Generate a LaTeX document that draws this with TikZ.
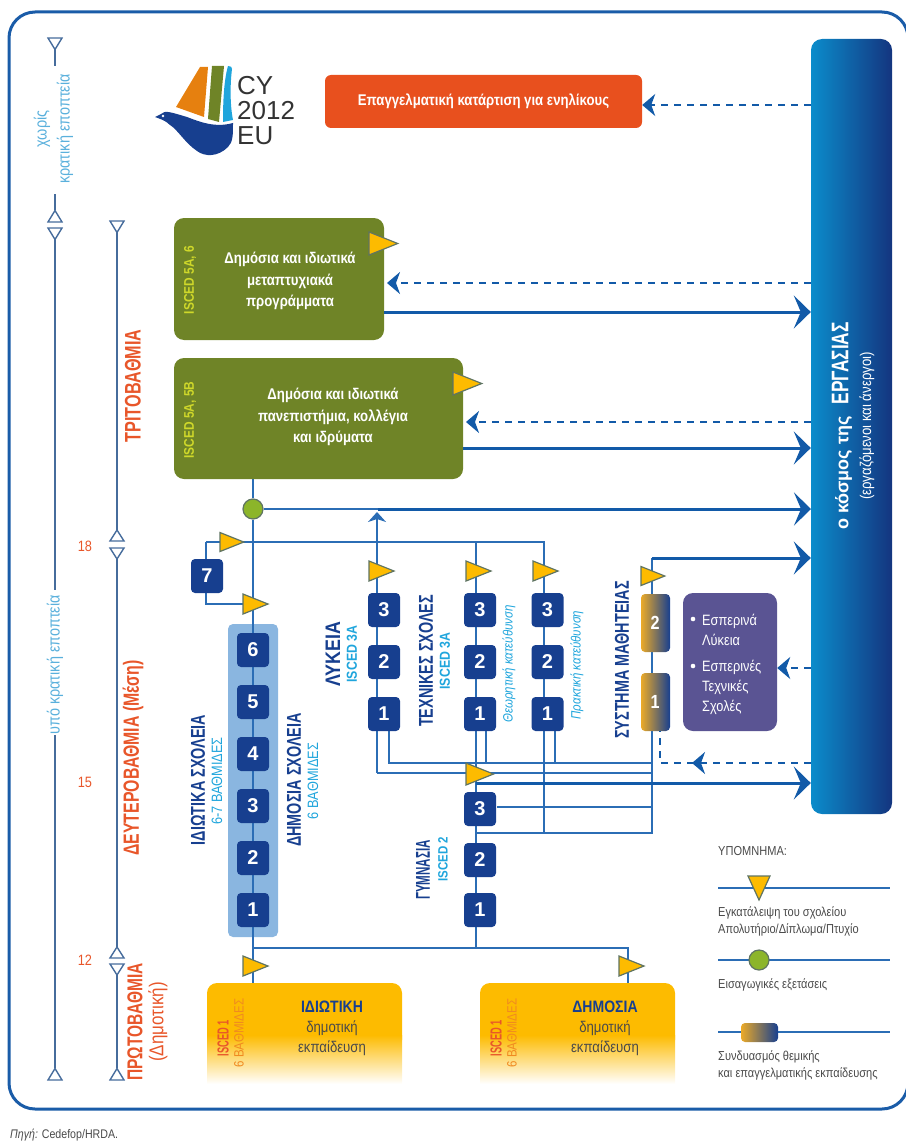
\documentclass[tikz,border=0pt]{standalone}
\usepackage{fontspec}
\setmainfont{Liberation Sans}
\newfontfamily\condA[FakeStretch=0.85]{Liberation Sans}
\newfontfamily\condB[FakeStretch=0.72]{Liberation Sans}
\newfontfamily\condC[FakeStretch=0.58]{Liberation Sans}
\usetikzlibrary{arrows.meta,backgrounds,calc}
\definecolor{lnblue}{HTML}{2B6DB5}
\definecolor{thkblue}{HTML}{125AA8}
\definecolor{frameblue}{HTML}{1A5CA8}
\definecolor{navy}{HTML}{173F8F}
\definecolor{olive}{HTML}{6F8427}
\definecolor{redor}{HTML}{E8562A}
\definecolor{orbox}{HTML}{E8501E}
\definecolor{amber}{HTML}{FDBB00}
\definecolor{triout}{HTML}{5F7462}
\definecolor{cyanl}{HTML}{1FA5DC}
\definecolor{skyl}{HTML}{5AB0DC}
\definecolor{brk}{HTML}{466C9C}
\definecolor{panel}{HTML}{8AB6E0}
\definecolor{purp}{HTML}{5A5493}
\definecolor{gold}{HTML}{EBAA28}
\definecolor{grn}{HTML}{8CB52A}
\definecolor{txtg}{HTML}{4A4A4A}
\definecolor{isc}{HTML}{CFD82A}
\definecolor{sailo}{HTML}{E6800F}
\definecolor{sixo}{HTML}{F08A20}
\definecolor{workl}{HTML}{0B8CCB}
\definecolor{workr}{HTML}{14357F}
\newcommand{\boxat}[6]{\node[#6,minimum width={#4-#2},minimum height={#5-#3}] (#1) at ({(#2+#4)/2},{(#3+#5)/2}) {};}
\newcommand{\numbox}[4]{\node[numb] (#1) at (#2,#3) {#4};}
\newcommand{\ytri}[3]{\filldraw[tri] (#1,#2-#3) -- (#1+#3*2.5,#2) -- (#1,#2+#3) -- cycle;}
\newcommand{\vl}[7]{\node[rotate=90,text=#6,inner sep=0,font=#4\fontsize{#5}{#5}\selectfont] (#1) at (#2,#3) {#7};}
\tikzset{
 ln/.style={draw=lnblue,line width=1.7pt},
 thk/.style={draw=thkblue,line width=3pt,-{Stealth[length=17pt,width=33pt,inset=7pt]}},
 dsh/.style={draw=thkblue,line width=2pt,dash pattern=on 7pt off 6pt},
 dtip/.style={-{Stealth[length=13pt,width=22pt,inset=4pt]}},
 numb/.style={fill=navy,rounded corners=4pt,minimum width=32pt,minimum height=34pt,inner sep=0,text=white,font=\bfseries\fontsize{20}{20}\selectfont},
 tri/.style={fill=amber,draw=triout,line width=1.2pt,line join=miter},
 brtri/.style={draw=brk,line width=1.4pt,fill=white},
 brline/.style={draw=brk,line width=1.4pt},
 circ/.style={circle,fill=grn,draw=triout,line width=1.2pt,minimum size=20pt,inner sep=0},
 appr/.style={left color=gold,right color=navy,rounded corners=4pt,inner sep=0},
 whitet/.style={text=white,font=\condA\bfseries\fontsize{15.5}{21.5}\selectfont,align=center,inner sep=0},
 prim/.style={font=\condA\fontsize{15.5}{20}\selectfont,text=txtg,align=center,inner sep=0},
 leg/.style={anchor=west,inner sep=0,text=txtg,font=\condA\fontsize{13}{17}\selectfont,align=left},
 puptxt/.style={anchor=west,inner sep=0,text=white,font=\condA\fontsize{15}{20}\selectfont,align=left},
}
\begin{document}
\begin{tikzpicture}[x=1pt,y=-1pt]
\useasboundingbox (0,0) rectangle (905,1142);
% frame
\draw[frameblue,line width=3pt,rounded corners=26pt] (9,12) rectangle (908,1109);
% logo
\fill[sailo] (200,67) -- (208,67) -- (204,117) -- (176,107) -- cycle;
\fill[olive] (212,66) -- (224,66) -- (219,122) -- (208,119) -- cycle;
\fill[cyanl] (228,66) .. controls (231,66) and (232,67) .. (232,69) .. controls (230,85) and (230,105) .. (233,120) -- (223,122) .. controls (223,100) and (224,80) .. (228,66) -- cycle;
\fill[navy] (155,117) -- (161,114) .. controls (165,110) and (170,112) .. (187,117) .. controls (200,122) and (215,128) .. (233,123) .. controls (233,135) and (233,142) .. (228,147) .. controls (218,157) and (205,157) .. (197,151) .. controls (185,143) and (178,130) .. (170,125) .. controls (165,120) and (160,119) .. (155,117) -- cycle;
\fill[white] (163,116) circle (1.3pt);
\node[anchor=west,inner sep=0,text=black!80,font=\fontsize{26}{25}\selectfont,align=left] (logotxt) at (237,111) {CY\\2012\\EU};
% orange box
\node[fill=orbox,rounded corners=6pt,minimum width=317pt,minimum height=53pt,text=white,font=\condA\bfseries\fontsize{15.5}{15.5}\selectfont] (adult) at (483.5,101.5) {Επαγγελματική κατάρτιση για ενηλίκους};
% world of work
\node[left color=workl,right color=workr,rounded corners=11pt,minimum width=81pt,minimum height=775pt,inner sep=0] (work) at (851.5,426.5) {};
\node[rotate=90,text=white,inner sep=0,font=\bfseries\fontsize{18}{18}\selectfont] (worktxt) at (842,426) {ο κόσμος της\hspace{12pt}{\condB\fontsize{24}{24}\selectfont ΕΡΓΑΣΙΑΣ}};
\node[rotate=90,text=white,inner sep=0,font=\condA\fontsize{15.5}{15.5}\selectfont] (worksub) at (867,426) {(εργαζόμενοι και άνεργοι)};
% green boxes
\boxat{gb1}{174}{218}{384}{340}{fill=olive,rounded corners=10pt,inner sep=0}
\boxat{gb2}{174}{358}{463}{479}{fill=olive,rounded corners=10pt,inner sep=0}
\node[whitet] (gt1) at (290,281) {Δημόσια και ιδιωτικά\\μεταπτυχιακά\\προγράμματα};
\node[whitet] (gt2) at (333,417) {Δημόσια και ιδιωτικά\\πανεπιστήμια, κολλέγια\\και ιδρύματα};
\vl{is1}{190}{280}{\condA\bfseries}{14}{isc}{ISCED 5A, 6}
\vl{is2}{190}{420}{\condA\bfseries}{14}{isc}{ISCED 5A, 5B}
% apprenticeship, purple
\boxat{ap2}{641}{594}{670}{652}{appr}
\boxat{ap1}{641}{673}{670}{731}{appr}
\node[text=white,font=\condA\bfseries\fontsize{19}{19}\selectfont,inner sep=0] (ap2t) at (655,623) {2};
\node[text=white,font=\condA\bfseries\fontsize{19}{19}\selectfont,inner sep=0] (ap1t) at (655,702) {1};
\boxat{purpb}{683}{593}{777}{731}{fill=purp,rounded corners=10pt,inner sep=0}
\fill[white] (693,619) circle (2.3pt) (693,666) circle (2.3pt);
\node[puptxt] (pt1) at (702,630) {Εσπερινά\\Λύκεια};
\node[puptxt] (pt2) at (702,687) {Εσπερινές\\Τεχνικές\\Σχολές};
% number boxes
\numbox{s6}{253}{650}{6}\numbox{s5}{253}{702}{5}\numbox{s4}{253}{754}{4}
\numbox{s3}{253}{806}{3}\numbox{s2}{253}{858}{2}\numbox{s1}{253}{910}{1}
\numbox{seven}{207}{576}{7}
\numbox{l3}{384}{610}{3}\numbox{l2}{384}{662}{2}\numbox{l1}{384}{714}{1}
\numbox{t3}{480}{610}{3}\numbox{t2}{480}{662}{2}\numbox{t1}{480}{714}{1}
\numbox{k3}{547.5}{610}{3}\numbox{k2}{547.5}{662}{2}\numbox{k1}{547.5}{714}{1}
\numbox{g3}{480}{809}{3}\numbox{g2}{480}{860}{2}\numbox{g1}{480}{910}{1}
% primary
\boxat{pr1}{207}{983}{402}{1050}{fill=amber,rounded corners=10pt,inner sep=0}
\boxat{pr2}{480}{983}{675}{1050}{fill=amber,rounded corners=10pt,inner sep=0}
\shade[top color=amber,bottom color=white] (207,1035) rectangle (402,1084);
\shade[top color=amber,bottom color=white] (480,1035) rectangle (675,1084);
\node[prim] (pt1a) at (332,1028) {\textcolor{navy}{\bfseries\fontsize{16.5}{20}\selectfont ΙΔΙΩΤΙΚΗ}\\δημοτική\\εκπαίδευση};
\node[prim] (pt2a) at (605,1028) {\textcolor{navy}{\bfseries\fontsize{16.5}{20}\selectfont ΔΗΜΟΣΙΑ}\\δημοτική\\εκπαίδευση};
\vl{i1a}{223}{1038}{\condC\bfseries}{16}{redor}{ISCED 1}
\vl{i1b}{239}{1033}{\condA}{13.5}{sixo}{6 ΒΑΘΜΙΔΕΣ}
\vl{i2a}{496}{1038}{\condC\bfseries}{16}{redor}{ISCED 1}
\vl{i2b}{512}{1033}{\condA}{13.5}{sixo}{6 ΒΑΘΜΙΔΕΣ}
% circle
\node[circ] (gate) at (253,509) {};
% coordinates of bus lines
\coordinate (busR) at (544,542);
\coordinate (busL) at (206,542);
\coordinate (lykx) at (377,512);
\coordinate (lykb) at (377,773);
\coordinate (y763a) at (389,763);
\coordinate (y763b) at (652,763);
\coordinate (y773b) at (652,773);
\coordinate (y783a) at (476,783);
\coordinate (y807b) at (652,807);
\coordinate (y833a) at (476,833);
\coordinate (y833b) at (652,833);
\coordinate (apt) at (652,558);
\coordinate (prbus) at (628,948);
\coordinate (s7b) at (206,604);
\coordinate (wk509) at (811,509);
\coordinate (thk509) at (378,509);
\coordinate (dsbr) at (660,763);
\begin{scope}[on background layer]
 \fill[panel,rounded corners=5pt] (228,624) rectangle (278,937);
 % vertical spine
 \draw[ln] (253,479) -- (gate);
 \draw[ln] (gate) -- (253,983);
 \draw[ln] (gate) -- (thk509);
 \draw[ln] (busL) -- (busR) -- (544,833) -- (y833a);
 \draw[ln] (busL) -- (seven.north -| busL);
 \draw[ln] (seven.south -| busL) -- (s7b) -- (253,604);
 \draw[ln] (lykb) -- (377,530);
 \draw[ln] (lykb) -- (466,773);
 \draw[ln] (389,731) -- (y763a) -- (y763b);
 \draw[ln] (476,542) -- (476,948);
 \draw[ln] (486,731) -- (486,763);
 \draw[ln] (555,731) -- (555,763);
 \draw[ln] (476,773) -- (y773b);
 \draw[ln] (497,807) -- (y807b);
 \draw[ln] (y833a) -- (y833b) -- (apt);
 \draw[ln] (253,948) -- (prbus) -- (628,983);
\end{scope}
% arrows
\draw[ln,-{Stealth[length=10pt,width=18pt,inset=3pt]}] (377,535) -- (lykx);
\draw[thk] (gb1.east |- 0,312) -- (work.west |- 0,312);
\draw[thk] (gb2.east |- 0,448) -- (work.west |- 0,448);
\draw[thk] (thk509) -- (wk509);
\draw[thk] (apt) -- (work.west |- apt);
\draw[thk] (y783a) -- (work.west |- y783a);
\draw[dsh,dtip] (work.west |- 0,105) -- (adult.east |- 0,105);
\draw[dsh,dtip] (work.west |- 0,283) -- (387,283);
\draw[dsh,dtip] (work.west |- 0,422) -- (466,422);
\draw[dsh,dtip] (work.west |- 0,668) -- (purpb.east |- 0,668);
\draw[dsh] (work.west |- dsbr) -- (dsbr) -- (660,731);
\draw[draw=thkblue,line width=2pt,dtip] (700,763) -- (692,763);
% triangles
\ytri{369}{243.5}{11.5}
\ytri{453}{383.5}{11.5}
\ytri{220}{542}{9.5}
\ytri{243}{604}{10}
\ytri{369}{571}{10}
\ytri{466}{571}{10}
\ytri{533}{571}{10}
\ytri{641}{576}{9.5}
\ytri{466}{774}{11}
\ytri{243}{966}{10}
\ytri{619}{966}{10}
% side brackets
\draw[brline] (55,49) -- (55,66);
\draw[brline] (55,194) -- (55,210);
\draw[brline] (55,239) -- (55,590);
\draw[brline] (55,735) -- (55,1068);
\draw[brline] (117,232) -- (117,531);
\draw[brline] (117,558) -- (117,947);
\draw[brline] (117,975) -- (117,1068);
\filldraw[brtri] (48,38) -- (62,38) -- (55,49.5) -- cycle;
\filldraw[brtri] (48,222) -- (62,222) -- (55,210.5) -- cycle;
\filldraw[brtri] (48,228) -- (62,228) -- (55,239.5) -- cycle;
\filldraw[brtri] (48,1080) -- (62,1080) -- (55,1068.5) -- cycle;
\filldraw[brtri] (110,221) -- (124,221) -- (117,232.5) -- cycle;
\filldraw[brtri] (110,541) -- (124,541) -- (117,530) -- cycle;
\filldraw[brtri] (110,548) -- (124,548) -- (117,559) -- cycle;
\filldraw[brtri] (110,958) -- (124,958) -- (117,947) -- cycle;
\filldraw[brtri] (110,964) -- (124,964) -- (117,975) -- cycle;
\filldraw[brtri] (110,1080) -- (124,1080) -- (117,1068.5) -- cycle;
% side labels
\vl{nosup}{42}{129}{\condA}{17}{skyl}{χωρίς}
\vl{nosup2}{65}{129}{\condA}{17}{skyl}{κρατική εποπτεία}
\vl{sup}{55}{665}{\condA}{17}{skyl}{υπό κρατική εποπτεία}
\vl{ter}{133}{386}{\condB\bfseries}{22.5}{redor}{ΤΡΙΤΟΒΑΘΜΙΑ}
\vl{sec}{133}{758}{\condB\bfseries}{22}{redor}{ΔΕΥΤΕΡΟΒΑΘΜΙΑ (Μέση)}
\vl{pri}{135}{1022}{\condB\bfseries}{21.5}{redor}{ΠΡΩΤΟΒΑΘΜΙΑ}
\vl{pri2}{158}{1022}{\condA}{20}{redor}{(Δημοτική)}
\node[text=redor,font=\condA\fontsize{15}{15}\selectfont,inner sep=0] (a18) at (85,546) {18};
\node[text=redor,font=\condA\fontsize{15}{15}\selectfont,inner sep=0] (a15) at (85,782) {15};
\node[text=redor,font=\condA\fontsize{15}{15}\selectfont,inner sep=0] (a12) at (85,960) {12};
% column labels
\vl{idso}{198}{780}{\condB\bfseries}{20}{navy}{ΙΔΙΩΤΙΚΑ ΣΧΟΛΕΙΑ}
\vl{idso2}{217}{781}{\condA}{15}{cyanl}{6-7 ΒΑΘΜΙΔΕΣ}
\vl{dso}{294}{780}{\condB\bfseries}{20}{navy}{ΔΗΜΟΣΙΑ ΣΧΟΛΕΙΑ}
\vl{dso2}{313}{781}{\condA}{15}{cyanl}{6 ΒΑΘΜΙΔΕΣ}
\vl{lyk}{333}{654}{\condA\bfseries}{21}{navy}{ΛΥΚΕΙΑ}
\vl{lyk2}{352}{654}{\condA\bfseries}{14.5}{cyanl}{ISCED 3A}
\vl{tec}{426}{661}{\condB\bfseries}{20}{navy}{ΤΕΧΝΙΚΕΣ ΣΧΟΛΕΣ}
\vl{tec2}{445}{661}{\condA\bfseries}{14.5}{cyanl}{ISCED 3A}
\vl{the}{509}{664}{\condA\itshape}{13.5}{cyanl}{Θεωρητική κατεύθυνση}
\vl{pra}{577}{665}{\condA\itshape}{13.5}{cyanl}{Πρακτική κατεύθυνση}
\vl{sys}{622}{660}{\condB\bfseries}{20}{navy}{ΣΥΣΤΗΜΑ ΜΑΘΗΤΕΙΑΣ}
\vl{gym}{423}{870}{\condC\bfseries}{20}{navy}{ΓΥΜΝΑΣΙΑ}
\vl{gym2}{443}{859}{\condA\bfseries}{13.5}{cyanl}{ISCED 2}
% legend
\node[leg] (legt) at (718,851) {ΥΠΟΜΝΗΜΑ:};
\coordinate (la1) at (718,888);\coordinate (la2) at (890,888);
\coordinate (lb1) at (718,960);\coordinate (lb2) at (890,960);
\coordinate (lc1) at (718,1032);\coordinate (lc2) at (890,1032);
\draw[ln] (la1) -- (la2);
\draw[ln] (lb1) -- (lb2);
\draw[ln] (lc1) -- (lc2);
\filldraw[tri] (748,876) -- (770,876) -- (759,900) -- cycle;
\node[circ] (legc) at (759,960) {};
\boxat{legg}{741}{1023}{778}{1042}{appr}
\node[leg] (leg1) at (718,921.5) {Εγκατάλειψη του σχολείου\\Απολυτήριο/Δίπλωμα/Πτυχίο};
\node[leg] (leg2) at (718,985) {Εισαγωγικές εξετάσεις};
\node[leg] (leg3) at (718,1065.5) {Συνδυασμός θεμικής\\και επαγγελματικής εκπαίδευσης};
\node[anchor=west,inner sep=0,text=txtg,font=\condA\fontsize{12.5}{12.5}\selectfont] (src) at (10,1135) {\textit{Πηγή:} Cedefop/HRDA.};
\end{tikzpicture}
\end{document}
